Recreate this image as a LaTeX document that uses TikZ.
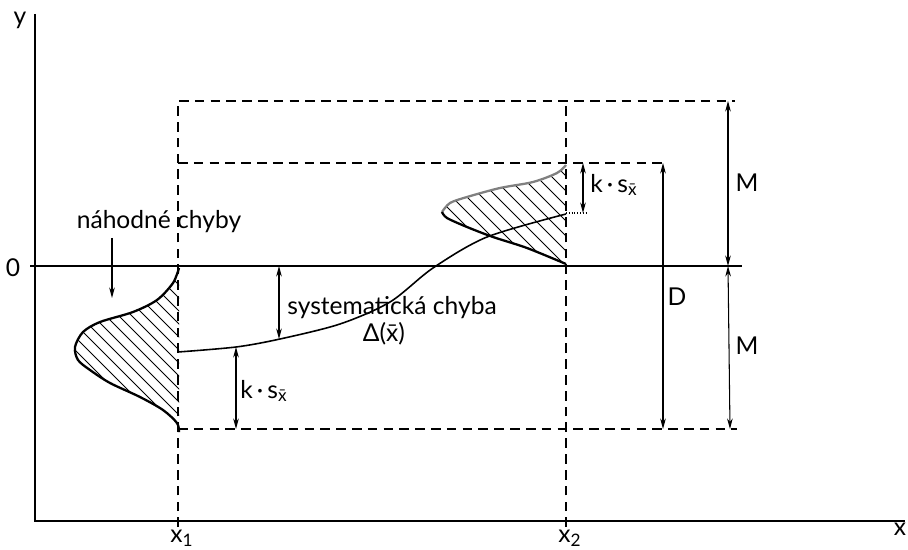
\documentclass[tikz,border=0pt]{standalone}
\usepackage{fontspec}
\setmainfont{Lato}
\usetikzlibrary{arrows.meta}
\begin{document}
\begin{tikzpicture}[x=0.02cm,y=-0.02cm,
  axis/.style={line width=0.8pt},
  guide/.style={line width=0.7pt, dash pattern=on 5.5pt off 3.5pt},
  dim/.style={line width=0.6pt, {Stealth[length=6pt,width=3.2pt]}-{Stealth[length=6pt,width=3.2pt]}},
  pointer/.style={line width=0.6pt, -{Stealth[length=6pt,width=3.2pt]}},
  lbl/.style={font=\fontsize{14}{16}\selectfont, inner sep=1pt},
  distr/.style={line width=1.3pt},
  hatch/.style={line width=0.5pt}]
\useasboundingbox (0,0) rectangle (908,550);
% axes
\coordinate (ytop) at (35,14);
\coordinate (orig) at (35,521);
\coordinate (xend) at (905,521);
\draw[axis] (ytop) -- (orig) -- (xend);
\draw[line width=0.6pt] (30,266) -- (742,266);
\node[lbl] (ylab) at (20,20) {y};
\node[lbl] (zero) at (13,268) {0};
\node[lbl] (xlab) at (900,529) {x};
\node[lbl] (x1lab) at (182,538) {x\textsubscript{1}};
\node[lbl] (x2lab) at (570,538) {x\textsubscript{2}};
% guide lines
\draw[guide] (178,527) -- (178,101) -- (735,101);
\draw[guide] (566,527) -- (566,101);
\draw[guide] (178,163) -- (668,163);
\draw[guide] (178,429) -- (737,429);
\draw[densely dotted, line width=0.6pt] (566,213) -- (588,213);
% left distribution
\begin{scope}
\clip plot[smooth] coordinates {(179,268) (173,283) (157,300) (133,312) (100,322) (83,332) (75,347) (78,360) (90,370) (110,383) (140,397) (163,410) (177,423) (179,432)} -- cycle;
\foreach \c in {-600,-587,...,600} \draw[hatch] (\c,0) -- (\c+600,600);
\end{scope}
\draw[distr] plot[smooth] coordinates {(179,268) (173,283) (157,300) (133,312) (100,322) (83,332) (75,347) (78,360) (90,370) (110,383) (140,397) (163,410) (177,423) (179,432)};
% right distribution
\begin{scope}
\clip plot[smooth] coordinates {(566,165) (557,173) (533,182) (500,188) (467,197) (450,203) (442,212) (447,218) (467,227) (493,237) (527,248) (566,264)} -- cycle;
\foreach \c in {-600,-585,...,600} \draw[hatch] (\c,0) -- (\c+600,600);
\end{scope}
\draw[distr, gray] plot[smooth] coordinates {(566,165) (557,173) (533,182) (500,188) (467,197) (450,203) (442,212)};
\draw[distr] plot[smooth] coordinates {(442,212) (447,218) (467,227) (493,237) (527,248) (566,264)};
% systematic error curve
\draw[line width=0.9pt] plot[smooth] coordinates {(178,352) (236,347) (280,339) (340,324) (390,302) (433,268) (487,237) (566,214)};
% dimension arrows
\coordinate (s1) at (279,266); \coordinate (s2) at (279,339);
\draw[dim] (s1) -- (s2);
\coordinate (k1) at (236,347); \coordinate (k2) at (236,429);
\draw[dim] (k1) -- (k2);
\coordinate (k3) at (583,163); \coordinate (k4) at (583,213);
\draw[dim] (k3) -- (k4);
\coordinate (d1) at (663,163); \coordinate (d2) at (663,429);
\draw[dim] (d1) -- (d2);
\coordinate (m1) at (728,101); \coordinate (m2) at (728,266); \coordinate (m3) at (730,429);
\draw[dim] (m1) -- (m2);
\draw[dim] (m2) -- (m3);
% labels
\node[lbl] (nah) at (159,222) {náhodné chyby};
\coordinate (nahtip) at (112,298);
\draw[pointer] (112,238) -- (nahtip);
\node[lbl] (sys) at (392,308) {systematická chyba};
\node[lbl] (delta) at (384,334) {Δ(\=x)};
\node[lbl] (ksl) at (264,391) {k\,·\,s\textsubscript{\=x}};
\node[lbl] (ksr) at (614,185) {k\,·\,s\textsubscript{\=x}};
\node[lbl] (dlab) at (677,297) {D};
\node[lbl] (mtop) at (747,183) {M};
\node[lbl] (mbot) at (747,346) {M};
\end{tikzpicture}
\end{document}
